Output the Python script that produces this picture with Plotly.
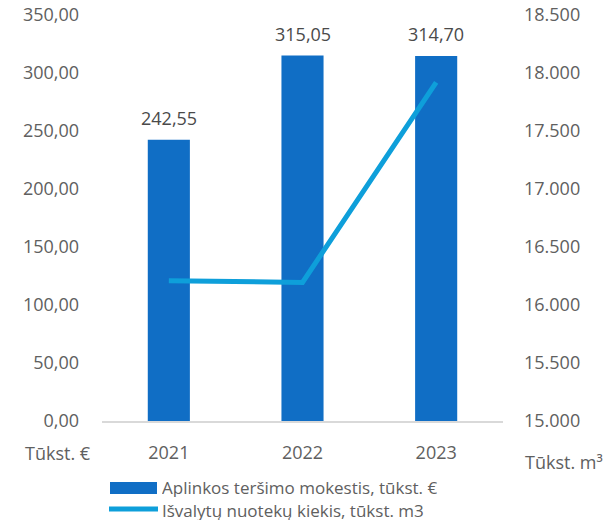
import plotly.graph_objects as go

# Data
years = ["2021", "2022", "2023"]
tax_values = [242.55, 315.05, 314.70]          # Aplinkos teršimo mokestis, tūkst. €
water_values = [16210, 16195, 17920]           # Išvalytų nuotekų kiekis, tūkst. m3
bar_name = "Aplinkos teršimo mokestis, tūkst. €"
line_name = "Išvalytų nuotekų kiekis, tūkst. m3"

BAR_COLOR = "#106EC5"
LINE_COLOR = "#0E9FDA"
TEXT_COLOR = "#606060"
FONT = "Open Sans"

W, H = 608, 522
L, R, T, B = 102, 105, 15, 101
pw, ph = W - L - R, H - T - B


def px_x(x):
    return (x - L) / pw


def px_y(y):
    return (H - B - y) / ph


def fmt_lt(v):
    return f"{v:.2f}".replace(".", ",")


tick_font = dict(family=FONT, size=18, color=TEXT_COLOR)
caption_font = dict(family=FONT, size=18, color=TEXT_COLOR)
legend_font = dict(family=FONT, size=17, color=TEXT_COLOR)

fig = go.Figure()
fig.add_trace(go.Bar(
    x=years, y=tax_values, name=bar_name,
    marker=dict(color=BAR_COLOR, line=dict(width=0)),
    width=0.315, yaxis="y", showlegend=False,
))
fig.add_trace(go.Scatter(
    x=years, y=water_values, name=line_name, mode="lines",
    line=dict(color=LINE_COLOR, width=5), yaxis="y2", showlegend=False,
))

annotations = []
# Value labels above bars (category axis: position by index)
for i, v in enumerate(tax_values):
    annotations.append(dict(
        x=i, y=v, xref="x", yref="y", text=fmt_lt(v), showarrow=False,
        xanchor="center", yanchor="middle", yshift=22,
        font=dict(family=FONT, size=18, color="#4a4a4a"),
    ))

# Axis unit captions
annotations.append(dict(x=px_x(23), y=px_y(453), xref="paper", yref="paper",
                        text="Tūkst. €", showarrow=False, xanchor="left",
                        yanchor="middle", font=caption_font))
annotations.append(dict(x=px_x(523), y=px_y(462), xref="paper", yref="paper",
                        text="Tūkst. m³", showarrow=False, xanchor="left",
                        yanchor="middle", font=caption_font))

# Legend text
annotations.append(dict(x=px_x(160), y=px_y(487), xref="paper", yref="paper",
                        text=bar_name, showarrow=False, xanchor="left",
                        yanchor="middle", height=20, font=legend_font))
annotations.append(dict(x=px_x(160), y=px_y(510), xref="paper", yref="paper",
                        text=line_name, showarrow=False, xanchor="left",
                        yanchor="middle", height=20, font=legend_font))

# Legend swatches
shapes = [
    dict(type="rect", xref="paper", yref="paper",
         x0=px_x(110), x1=px_x(157), y0=px_y(494), y1=px_y(482),
         fillcolor=BAR_COLOR, line=dict(width=0)),
    dict(type="line", xref="paper", yref="paper",
         x0=px_x(109), x1=px_x(158), y0=px_y(509), y1=px_y(509),
         line=dict(color=LINE_COLOR, width=5)),
]

fig.update_layout(
    width=W, height=H,
    margin=dict(l=L, r=R, t=T, b=B, pad=0, autoexpand=False),
    paper_bgcolor="white", plot_bgcolor="white",
    separators=",.",
    annotations=annotations,
    shapes=shapes,
    xaxis=dict(
        type="category", range=[-0.5, 2.5], showgrid=False, zeroline=False,
        showline=True, linecolor="#D9D9D9", linewidth=1.5, automargin=False,
        ticks="", tickfont=tick_font, ticklabelstandoff=15,
    ),
    yaxis=dict(
        range=[0, 350], tickvals=[0, 50, 100, 150, 200, 250, 300, 350],
        tickformat=",.2f", showgrid=False, zeroline=False, showline=False,
        automargin=False,
        ticks="", tickfont=tick_font, ticklabelstandoff=22,
    ),
    yaxis2=dict(
        range=[15000, 18500], overlaying="y", side="right",
        tickvals=[15000, 15500, 16000, 16500, 17000, 17500, 18000, 18500],
        tickformat=",d", showgrid=False, zeroline=False, showline=False,
        automargin=False,
        ticks="", tickfont=tick_font, ticklabelstandoff=20,
    ),
)

fig.write_html("out.html")
